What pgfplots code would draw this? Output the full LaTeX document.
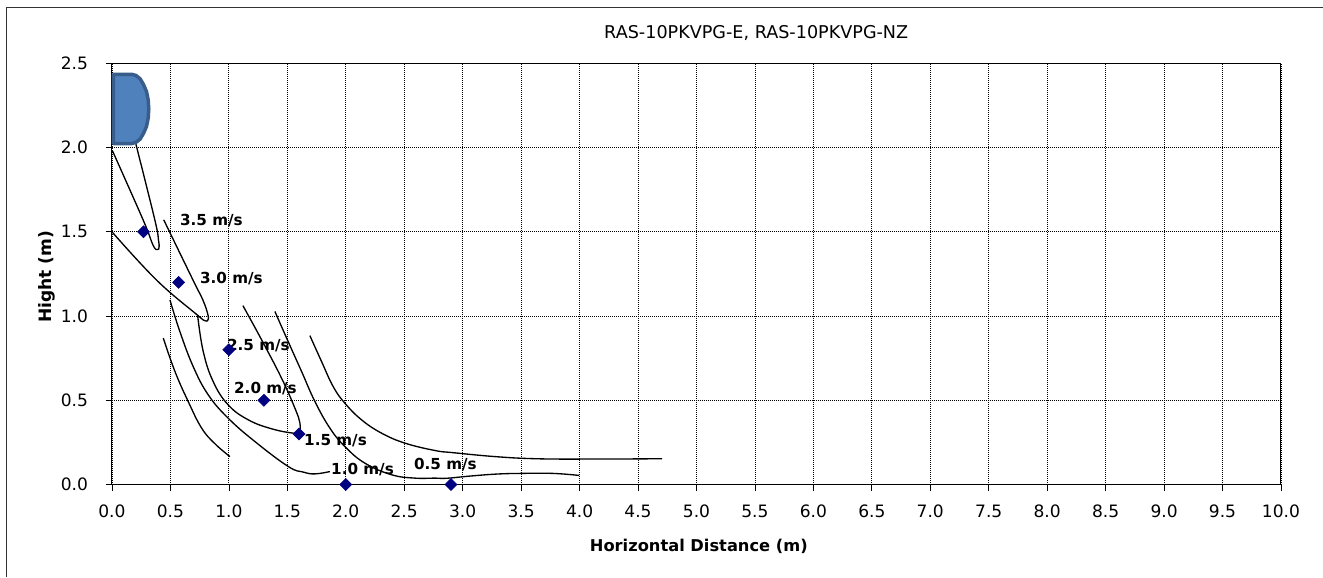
\documentclass[border=0pt]{standalone}
\usepackage{fontspec}
\setmainfont{DejaVu Sans}
\usepackage{pgfplots}
\pgfplotsset{compat=1.18}

\definecolor{shapefill}{HTML}{4F81BD}
\definecolor{shapeline}{HTML}{385D8A}
\definecolor{marknavy}{HTML}{000080}

\pgfplotsset{
    flow/.style={black, line width=1pt, smooth, tension=0.7, no markers, forget plot},
}
\tikzset{
    speed/.style={anchor=west, inner sep=0pt, font=\fontsize{11.4pt}{12pt}\selectfont\bfseries},
}

\begin{document}
\begin{tikzpicture}[x=0.75pt, y=0.75pt]
% page and frame, sizes in reference pixels from the axis corner
\path[fill=white] (-112,-92.3) rectangle (1211,484.7);
\draw[black!80, line width=0.75pt] (-105,-92.3) -- (-105,476.7) -- (1211,476.7);
\begin{axis}[
    at={(0,0)}, anchor=south west,
    scale only axis,
    width=877.1pt, height=316pt,
    xmin=0, xmax=10, ymin=0, ymax=2.5,
    xtick={0,0.5,...,10}, ytick={0,0.5,...,2.5},
    xticklabel style={yshift=-7.5pt, /pgf/number format/fixed, /pgf/number format/fixed zerofill, /pgf/number format/precision=1},
    yticklabel style={xshift=-10pt, /pgf/number format/fixed, /pgf/number format/fixed zerofill, /pgf/number format/precision=1},
    /pgf/number format/assume math mode=true,
    tick label style={font=\fontsize{12.8pt}{14pt}\selectfont},
    tick align=outside, tick pos=left,
    major tick length=4.5pt,
    tick style={black, line width=0.5pt},
    grid=major,
    grid style={black, line width=0.6pt, dash pattern=on 0.75pt off 0.75pt},
    axis line style={black, line width=0.75pt},
    clip=false,
    title={RAS-10PKVPG-E, RAS-10PKVPG-NZ},
    title style={at={(axis cs:5.511,2.5)}, anchor=center, yshift=17.1pt, inner sep=0pt, font=\fontsize{13.2pt}{15pt}\selectfont},
    xlabel={Horizontal Distance (m)},
    xlabel style={at={(axis cs:5.02,0)}, anchor=center, yshift=-46.5pt, inner sep=0pt, font=\fontsize{12.2pt}{14pt}\selectfont\bfseries},
    ylabel={Hight (m)},
    ylabel style={at={(axis cs:0,1.234)}, rotate=0, anchor=center, yshift=48.75pt, inner sep=0pt, font=\fontsize{12.8pt}{14pt}\selectfont\bfseries},
]

% indoor unit outline
\addplot[fill=shapefill, draw=shapeline, line width=2.6pt, line join=round, forget plot] coordinates {
    (0.012,2.435)(0.17,2.435)(0.2055,2.428)(0.2415,2.408)(0.27,2.374)(0.296,2.332)(0.31,2.282)(0.315,2.228)
    (0.31,2.175)(0.296,2.126)(0.27,2.084)(0.2415,2.051)(0.2055,2.031)(0.17,2.024)(0.012,2.024)
} -- cycle;

% 3.5 m/s
\addplot[flow] coordinates {
    (0.005,1.98)(0.267,1.57)(0.352,1.42)(0.39,1.395)(0.403,1.41)(0.398,1.45)(0.367,1.57)(0.205,2.02)
};
% 3.0 m/s
\addplot[flow] coordinates {
    (0,1.5)(0.381,1.214)(0.722,1.011)(0.793,0.973)(0.821,0.977)(0.82,1.01)(0.778,1.095)(0.693,1.214)(0.443,1.571)
};
% 2.0 m/s
\addplot[flow] coordinates {
    (0.733,1.003)(0.781,0.789)(0.866,0.611)(0.994,0.473)(1.166,0.384)(1.365,0.331)(1.55,0.305)(1.598,0.312)(1.608,0.364)(1.565,0.453)(1.451,0.631)(1.28,0.859)(1.12,1.062)
};
% 1.5 m/s
\addplot[flow] coordinates {
    (0.496,1.096)(0.581,0.908)(0.695,0.70)(0.824,0.532)(0.994,0.394)(1.223,0.255)(1.508,0.107)(1.636,0.074)(1.736,0.063)(1.864,0.077)
};
% inner short branch
\addplot[flow] coordinates {
    (0.439,0.869)(0.539,0.671)(0.652,0.493)(0.767,0.335)(0.881,0.242)(1.009,0.166)
};
% 1.0 m/s
\addplot[flow] coordinates {
    (1.394,1.027)(1.507,0.849)(1.622,0.671)(1.736,0.493)(1.864,0.335)(1.992,0.226)(2.163,0.127)(2.392,0.058)(2.591,0.038)(2.762,0.038)(2.862,0.037)(3.061,0.05)(3.29,0.062)(3.502,0.066)(3.771,0.066)(3.996,0.054)
};
% 0.5 m/s
\addplot[flow] coordinates {
    (1.693,0.884)(1.793,0.73)(1.892,0.582)(1.992,0.483)(2.135,0.384)(2.306,0.305)(2.505,0.246)(2.762,0.202)(2.919,0.189)(3.29,0.165)(3.631,0.153)(4.062,0.151)(4.706,0.153)
};

% measured points
\addplot[only marks, mark=square*, mark size=3.2pt, mark options={rotate=45, fill=marknavy, draw=marknavy}, forget plot] coordinates {
    (0.27,1.5)(0.57,1.2)(1.0,0.8)(1.3,0.5)(1.6,0.3)(2.0,0)(2.9,0)
};

\node[speed] at (axis cs:0.581,1.565) {3.5 m/s};
\node[speed] at (axis cs:0.752,1.22) {3.0 m/s};
\node[speed] at (axis cs:0.983,0.823) {2.5 m/s};
\node[speed] at (axis cs:1.043,0.567) {2.0 m/s};
\node[speed] at (axis cs:1.642,0.259) {1.5 m/s};
\node[speed] at (axis cs:1.873,0.09) {1.0 m/s};
\node[speed] at (axis cs:2.582,0.12) {0.5 m/s};
\end{axis}
\end{tikzpicture}
\end{document}
